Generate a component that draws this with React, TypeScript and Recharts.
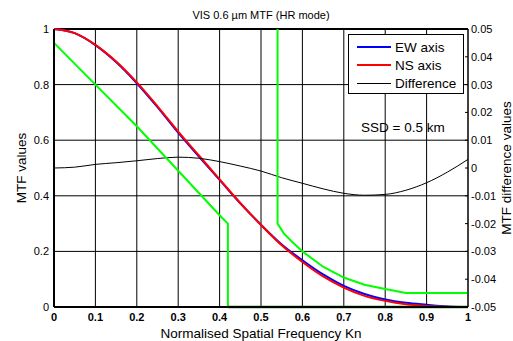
import React from 'react';
import { LineChart, Line, XAxis, YAxis, CartesianGrid, ReferenceLine, Label } from 'recharts';

// normalised spatial frequency samples for the measured curves
const freq = [0, 0.05, 0.1, 0.15, 0.2, 0.25, 0.3, 0.35, 0.4, 0.45, 0.5, 0.55, 0.6, 0.65, 0.7, 0.75, 0.8, 0.85, 0.9, 0.95, 1];
const ewAxis = [1, 0.985, 0.942, 0.881, 0.805, 0.719, 0.627, 0.541, 0.457, 0.373, 0.296, 0.225, 0.168, 0.117, 0.076, 0.047, 0.027, 0.015, 0.008, 0.002, 0];
const nsAxis = [1, 0.985, 0.943, 0.883, 0.808, 0.722, 0.631, 0.545, 0.459, 0.374, 0.295, 0.222, 0.162, 0.11, 0.07, 0.04, 0.022, 0.01, 0.004, 0.001, 0];
const difference = [0, 0.0003, 0.0013, 0.0019, 0.0026, 0.0034, 0.0039, 0.0035, 0.0023, 0.0007, -0.0011, -0.0035, -0.0055, -0.0075, -0.0091, -0.0098, -0.0095, -0.008, -0.0053, -0.0015, 0.0031];

// requirement masks (green)
const lowerMaskFreq = [0, 0.1, 0.2, 0.3, 0.4, 0.42, 0.42];
const lowerMask = [0.95, 0.8, 0.65, 0.49, 0.33, 0.3, 0];
const lowerFloorFreq = [0.42, 1];
const lowerFloor = [0, 0];
const upperMaskFreq = [0.54, 0.54, 0.555, 0.575, 0.6, 0.65, 0.7, 0.75, 0.8, 0.85, 1];
const upperMask = [1, 0.3, 0.265, 0.235, 0.2, 0.145, 0.106, 0.08, 0.065, 0.05, 0.05];

const xTicks = [0, 0.1, 0.2, 0.3, 0.4, 0.5, 0.6, 0.7, 0.8, 0.9, 1];
const mtfTicks = [0, 0.2, 0.4, 0.6, 0.8, 1];
const diffTicks = [-0.05, -0.04, -0.03, -0.02, -0.01, 0, 0.01, 0.02, 0.03, 0.04, 0.05];

const legendItems = [
  { name: 'EW axis', color: '#0000ff', width: 2 },
  { name: 'NS axis', color: '#ff0000', width: 2 },
  { name: 'Difference', color: '#000000', width: 1 },
];

const FONT = '"Liberation Sans", Arial, sans-serif';

const toPoints = (xs: number[], ys: number[]) => xs.map((x, i) => ({ x, y: ys[i] }));
const fmt = (v: number) => String(Number(v.toFixed(2)));

function DiffTick(props: any) {
  const { x, y, payload } = props;
  return (
    <g>
      <line x1={x - 3} y1={y} x2={x} y2={y} stroke="#000" strokeWidth={1} />
      <text x={x + 3} y={y} dy="0.36em" textAnchor="start" fontSize={11} fontFamily={FONT} fill="#000">
        {fmt(payload.value)}
      </text>
    </g>
  );
}

export default function App() {
  return (
    <div style={{ position: 'absolute', left: 0, top: 0, width: 513, height: 341, background: '#fff', fontFamily: FONT }}>
      <div style={{ position: 'absolute', left: 54, width: 414, top: 9, textAlign: 'center', fontSize: 11, lineHeight: '13px', color: '#000' }}>
        VIS 0.6 µm MTF (HR mode)
      </div>
      <LineChart width={513} height={341} margin={{ top: 29, right: 0, bottom: 0, left: 0 }}>
        <CartesianGrid yAxisId="left" stroke="#000" strokeWidth={1} horizontalValues={mtfTicks} verticalValues={xTicks} />
        <XAxis
          type="number"
          dataKey="x"
          domain={[0, 1]}
          ticks={xTicks}
          height={34}
          tickSize={0}
          tickMargin={6}
          tickFormatter={fmt}
          axisLine={{ stroke: '#000', strokeWidth: 2 }}
          tick={{ fontSize: 11, fontWeight: 'bold', fill: '#000', fontFamily: FONT }}
          allowDuplicatedCategory={false}
        >
          <Label value="Normalised Spatial Frequency Kn" position="insideBottom" offset={3} style={{ fontSize: 13.5, fill: '#000', fontFamily: FONT }} />
        </XAxis>
        <YAxis
          yAxisId="left"
          type="number"
          domain={[0, 1]}
          ticks={mtfTicks}
          width={54}
          tickSize={0}
          tickMargin={5}
          tickFormatter={fmt}
          axisLine={{ stroke: '#000', strokeWidth: 2 }}
          tick={{ fontSize: 11, fill: '#000', fontFamily: FONT }}
        >
          <Label value="MTF values" angle={-90} position="insideLeft" offset={21} style={{ fontSize: 13.5, fill: '#000', fontFamily: FONT, textAnchor: 'middle' }} />
        </YAxis>
        <YAxis
          yAxisId="right"
          orientation="right"
          type="number"
          domain={[-0.05, 0.05]}
          ticks={diffTicks}
          width={45}
          tickSize={0}
          tickMargin={0}
          tickLine={false}
          axisLine={{ stroke: '#000', strokeWidth: 1 }}
          tick={<DiffTick />}
        >
          <Label value="MTF difference values" angle={-90} position="insideRight" offset={7} style={{ fontSize: 13.5, fill: '#000', fontFamily: FONT, textAnchor: 'middle' }} />
        </YAxis>
        <ReferenceLine yAxisId="left" y={1} stroke="#000" strokeWidth={2} />
        <Line yAxisId="left" data={toPoints(freq, ewAxis)} dataKey="y" type="monotone" stroke="#0000ff" strokeWidth={2} dot={false} isAnimationActive={false} />
        <Line yAxisId="left" data={toPoints(freq, nsAxis)} dataKey="y" type="monotone" stroke="#ff0000" strokeWidth={2} dot={false} isAnimationActive={false} />
        <Line yAxisId="right" data={toPoints(freq, difference)} dataKey="y" type="monotone" stroke="#000" strokeWidth={1} dot={false} isAnimationActive={false} />
        <Line yAxisId="left" data={toPoints(lowerMaskFreq, lowerMask)} dataKey="y" type="linear" stroke="#00ff00" strokeWidth={2} dot={false} isAnimationActive={false} />
        <Line yAxisId="left" data={toPoints(lowerFloorFreq, lowerFloor)} dataKey="y" type="linear" stroke="#007a00" strokeWidth={2.5} dot={false} isAnimationActive={false} />
        <Line yAxisId="left" data={toPoints(upperMaskFreq, upperMask)} dataKey="y" type="linear" stroke="#00ff00" strokeWidth={2} dot={false} isAnimationActive={false} />
      </LineChart>
      <div
        style={{
          position: 'absolute', left: 348, top: 34, width: 114, height: 58,
          border: '1px solid #000', background: '#fff', fontSize: 13.5, color: '#000',
        }}
      >
        {legendItems.map((item, i) => (
          <div key={item.name} style={{ position: 'absolute', left: 0, top: 4 + i * 18, height: 17, width: 114 }}>
            <div style={{ position: 'absolute', left: 8, top: 8 - item.width / 2, width: 34, height: item.width, background: item.color }} />
            <div style={{ position: 'absolute', left: 46, top: 0, lineHeight: '17px', whiteSpace: 'nowrap' }}>{item.name}</div>
          </div>
        ))}
      </div>
      <div style={{ position: 'absolute', left: 361, top: 120, fontSize: 13.5, lineHeight: '16px', color: '#000', whiteSpace: 'nowrap' }}>
        SSD = 0.5 km
      </div>
    </div>
  );
}
